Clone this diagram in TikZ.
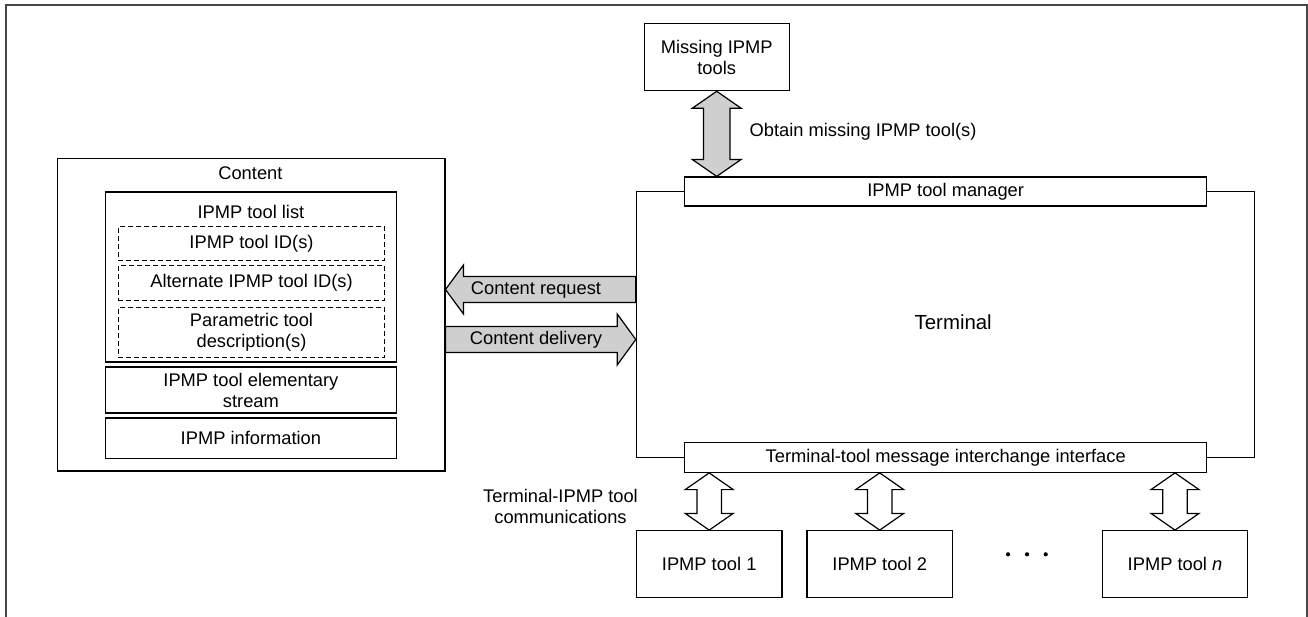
\documentclass[tikz,border=0pt]{standalone}
\usepackage{fontspec}
\setmainfont{Liberation Sans}
\usetikzlibrary{calc}

\definecolor{arrowgray}{RGB}{207,207,207}
\definecolor{framegray}{RGB}{70,70,70}

% vertical double block arrow between two points (top, bottom)
% #1 style, #2 top point, #3 bottom point, #4 head half width, #5 shaft half width, #6 head length
\newcommand{\vblockarrow}[6]{%
  \draw[#1] (#2)
    -- ($(#2)+(#4,#6)$) -- ($(#2)+(#5,#6)$)
    -- ($(#3)+(#5,-#6)$) -- ($(#3)+(#4,-#6)$)
    -- (#3)
    -- ($(#3)+(-#4,-#6)$) -- ($(#3)+(-#5,-#6)$)
    -- ($(#2)+(-#5,#6)$) -- ($(#2)+(-#4,#6)$)
    -- cycle;}
% horizontal single block arrow from tail point #2 to tip point #3
% #4 head half height, #5 shaft half height, #6 head length (signed towards tip)
\newcommand{\hblockarrow}[6]{%
  \draw[#1] ($(#2)+(0,-#5)$)
    -- ($(#3)+(-#6,-#5)$) -- ($(#3)+(-#6,-#4)$)
    -- (#3)
    -- ($(#3)+(-#6,#4)$) -- ($(#3)+(-#6,#5)$)
    -- ($(#2)+(0,#5)$) -- cycle;}

\begin{document}
\begin{tikzpicture}[x=1pt,y=-1pt,
  every node/.style={font=\fontsize{18.3}{21}\selectfont, inner sep=0pt, align=center},
  box/.style={draw, line width=1.2pt, fill=white},
  dbox/.style={draw, line width=1.5pt, dash pattern=on 5pt off 3pt},
  graybar/.style={draw, line width=1.2pt, fill=arrowgray},
  hollow/.style={draw, line width=1.2pt, fill=white}]

\useasboundingbox (0,0) rectangle (1308,616);

% outer frame (open at the bottom)
\draw[framegray, line width=2pt] (5.5,620) -- (5.5,5) -- (1306.8,5) -- (1306.8,620);

% ---------- content side ----------
\node[box, minimum width=387.2pt, minimum height=312.3pt] (content) at (251.3,314.9) {};
\node (contentlbl) at (250.4,173.3) {Content};

\node[box, minimum width=291.3pt, minimum height=170pt] (toollist) at (250.9,277) {};
\node (toollistlbl) at (250.9,212.3) {IPMP tool list};

\node[dbox, minimum width=266.4pt, minimum height=34pt] (ids) at (251.5,243.7) {IPMP tool ID(s)};
\node[dbox, minimum width=266.4pt, minimum height=35pt] (altids) at (251.5,283.2) {Alternate IPMP tool ID(s)};
\node[dbox, minimum width=266.4pt, minimum height=50pt] (param) at (251.5,332.3) {Parametric tool\\description(s)};

\node[box, minimum width=291.3pt, minimum height=46pt] (elem) at (250.9,390) {IPMP tool elementary\\stream};
\node[box, minimum width=291.3pt, minimum height=40.3pt] (info) at (250.9,438.2) {IPMP information};

% ---------- terminal side ----------
\node[box, minimum width=618.4pt, minimum height=266pt] (terminal) at (945.6,324.5) {};
\node[font=\fontsize{20.4}{24}\selectfont] (terminallbl) at (953.2,322.7) {Terminal};

\node[box, minimum width=522pt, minimum height=29pt] (manager) at (945.7,191.5) {IPMP tool manager};
\node[box, minimum width=522pt, minimum height=29.6pt] (iface) at (945.7,457.5) {Terminal-tool message interchange interface};

\node[box, minimum width=144.8pt, minimum height=67.4pt] (missing) at (716.7,57) {Missing IPMP\\tools};

\node[box, minimum width=145.5pt, minimum height=67pt] (tool1) at (709.2,564.2) {IPMP tool 1};
\node[box, minimum width=145.3pt, minimum height=67pt] (tool2) at (879.7,564.2) {IPMP tool 2};
\node[box, minimum width=145.3pt, minimum height=67pt] (tooln) at (1175,564.2) {IPMP tool \textit{n}};

% ellipsis between tool 2 and tool n
\fill (1008,554.3) circle (2.1pt) (1027,554.3) circle (2.1pt) (1045.7,554.3) circle (2.1pt);

% ---------- connectors ----------
\coordinate (obtTop) at (missing.south);
\coordinate (obtBot) at (missing.south |- manager.north);
\vblockarrow{graybar}{obtTop}{obtBot}{24.5}{13.2}{17}
\node[anchor=west] (obtainlbl) at (749.5,132) {Obtain missing IPMP tool(s)};

\coordinate (reqTail) at (terminal.west |- 0,289.5);
\coordinate (reqTip) at (content.east |- 0,289.5);
\hblockarrow{graybar}{reqTail}{reqTip}{24.5}{13}{-18}
\node (reqlbl) at (536,290) {Content request};

\coordinate (delTail) at (content.east |- 0,339.5);
\coordinate (delTip) at (terminal.west |- 0,339.5);
\hblockarrow{graybar}{delTail}{delTip}{25.5}{13}{18.6}
\node (dellbl) at (536,339.5) {Content delivery};

\foreach \t in {tool1,tool2,tooln}{
  \coordinate (\t top) at (\t.north |- iface.south);
  \coordinate (\t bot) at (\t.north);
  \vblockarrow{hollow}{\t top}{\t bot}{24}{12.2}{16.7}
}
\node (commlbl) at (560.5,506.3) {Terminal-IPMP tool\\communications};

\end{tikzpicture}
\end{document}
